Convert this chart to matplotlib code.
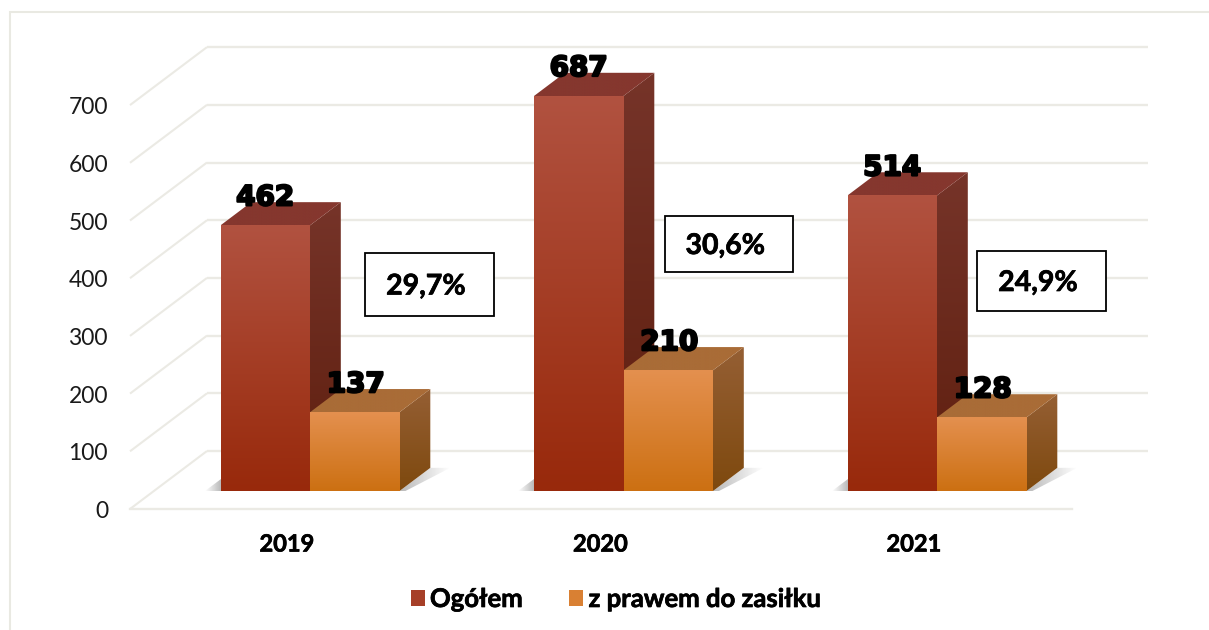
"""Unemployed totals and those with benefit rights, drawn as fake 3D bars."""

import matplotlib
matplotlib.use("Agg")
import matplotlib.pyplot as plt
import numpy as np
import matplotlib.patheffects as pe
from matplotlib.colors import to_rgb
from matplotlib.patches import Patch, Polygon, Rectangle

years = ["2019", "2020", "2021"]
ogolem = [462, 687, 514]
z_prawem = [137, 210, 128]
percents = ["29,7%", "30,6%", "24,9%"]
y_ticks = [0, 100, 200, 300, 400, 500, 600, 700]
series_names = ["Ogółem", "z prawem do zasiłku"]

W, H = 1209, 630
CAT_PX = 313.5    # px between categories
VAL_PX = 0.577    # px per value unit
X0_PX, Y0_PX = 310.0, 509.0

# floor depth in data units
DEPTH_X = 77 / CAT_PX
DEPTH_Y = 58 / VAL_PX
BAR_W = 89.5 / CAT_PX
BAR_D0 = 0.31     # where bars start on the floor
BAR_D = 0.40      # how deep bars are
BAR_SCALE = 0.575 / VAL_PX   # bars run a touch shorter than the wall scale

RED = {"front": ("#B15240", "#98290B"), "side": ("#763429", "#5E1E0E"), "top": ("#85372E", "#85372E")}
ORANGE = {"front": ("#E4904F", "#CC7012"), "side": ("#955F34", "#7E490E"), "top": ("#A96C37", "#A96C37")}
GRID = "#EBEAE4"


def from_px(px, py):
    return (px - X0_PX) / CAT_PX, (Y0_PX - py) / VAL_PX


def project(x, v, d):
    return x + d * DEPTH_X, v + d * DEPTH_Y


def gradient_poly(ax, pts, top, bottom, zorder):
    """Fill a polygon with a vertical gradient, clipped through imshow."""
    pts = np.array(pts)
    c1, c2 = np.array(to_rgb(top)), np.array(to_rgb(bottom))
    t = np.linspace(0, 1, 128)[:, None, None]
    img = c1[None, None, :] * (1 - t) + c2[None, None, :] * t
    extent = (pts[:, 0].min(), pts[:, 0].max(), pts[:, 1].min(), pts[:, 1].max())
    im = ax.imshow(img, extent=extent, origin="upper", aspect="auto", zorder=zorder, interpolation="bilinear")
    clip = Polygon(pts, closed=True, transform=ax.transData, facecolor="none", edgecolor="none")
    ax.add_patch(clip)
    im.set_clip_path(clip)


def shadow(ax, x0, x1, y0, y1, pts, reverse, zorder):
    """Grey fade next to a bar foot."""
    a = np.linspace(0.42, 0.0, 64)
    if reverse:
        a = a[::-1]
    img = np.zeros((1, 64, 4))
    img[0, :, :3] = 0.35
    img[0, :, 3] = a
    im = ax.imshow(img, extent=(x0, x1, y0, y1), aspect="auto", zorder=zorder, interpolation="bilinear")
    clip = Polygon(pts, closed=True, transform=ax.transData, facecolor="none", edgecolor="none")
    ax.add_patch(clip)
    im.set_clip_path(clip)


def draw_bar(ax, x, value, style, zorder):
    x1 = x + BAR_W
    d0, d1 = BAR_D0, BAR_D0 + BAR_D
    height = value * BAR_SCALE
    base = project(x, 0, d0)[1]
    fx0 = project(x, 0, d0)[0]
    fx1 = project(x1, 0, d0)[0]
    bx0 = project(x, 0, d1)[0]
    bx1 = project(x1, 0, d1)[0]
    ftop = base + height
    btop = project(x, height, d1)[1]
    bbase = project(x, 0, d1)[1]
    gradient_poly(ax, [(fx1, ftop), (bx1, btop), (bx1, bbase), (fx1, base)], *style["side"], zorder)
    gradient_poly(ax, [(fx0, ftop), (fx1, ftop), (bx1, btop), (bx0, btop)], *style["top"], zorder)
    gradient_poly(ax, [(fx0, ftop), (fx1, ftop), (fx1, base), (fx0, base)], *style["front"], zorder + 0.1)
    return fx0, fx1, bx1, base, bbase, ftop


def main():
    fig = plt.figure(figsize=(W / 100, H / 100), dpi=100)
    ax = fig.add_axes([0, 0, 1, 1])
    xlim = (from_px(0, 0)[0], from_px(W, 0)[0])
    ylim = (from_px(0, H)[1], from_px(0, 0)[1])
    nudge = 2.5 / VAL_PX

    # walls
    for v in y_ticks:
        bx, by = project(from_px(130, 0)[0], v, 1)
        ax.plot([from_px(130, 0)[0], bx], [v, by], color=GRID, lw=1.5, zorder=1, solid_capstyle="butt")
        ax.plot([bx, from_px(1148, 0)[0]], [by, by], color=GRID, lw=1.7, zorder=1, solid_capstyle="butt")
        ax.text(from_px(108, 0)[0], v - nudge, str(v), ha="right", va="center", family="Lato",
                fontsize=16.5, color="#1A1A1A", zorder=5)
    ax.plot([from_px(130, 0)[0], from_px(1072, 0)[0]], [0, 0], color=GRID, lw=1.7, zorder=1)

    # chart frame
    fx, fy = from_px(10, 12)
    ax.plot([fx, fx, xlim[1]], [ylim[0], fy, fy], color="#E9E9E2", lw=1.5, zorder=1, solid_joinstyle="miter")

    stroke = [pe.withStroke(linewidth=1.6, foreground="black")]
    thin = [pe.withStroke(linewidth=0.5, foreground="black")]

    for i, year in enumerate(years):
        x_left = i - BAR_W
        fx0, _, _, base, _, ftop = draw_bar(ax, x_left - BAR_D0 * DEPTH_X, ogolem[i], RED, 3)
        _, _, _, _, _, ftop2 = draw_bar(ax, i - BAR_D0 * DEPTH_X, z_prawem[i], ORANGE, 3.2)

        # foot shadows
        sx0 = fx0 - 16 / CAT_PX
        shadow(ax, sx0, fx0, base, base + 12 / VAL_PX,
               [(sx0, base), (fx0, base), (fx0, base + 12 / VAL_PX)], True, 2)
        rx = i + BAR_W
        bx, by = rx + BAR_D * DEPTH_X, base + BAR_D * DEPTH_Y
        sx1 = bx + 20 / CAT_PX
        shadow(ax, rx, sx1, base, by, [(rx, base), (bx, by), (sx1, by), (rx + 4 / CAT_PX, base - 1 / VAL_PX)],
               False, 2)

        # value labels
        ax.text(i - BAR_W / 2, ftop + 28 / VAL_PX, str(ogolem[i]), ha="center", va="center",
                family="DejaVu Sans", weight="bold", fontsize=20, color="black", zorder=6, path_effects=stroke)
        ax.text(i + BAR_W / 2 + 1 / CAT_PX, ftop2 + 28 / VAL_PX, str(z_prawem[i]), ha="center",
                va="center", family="DejaVu Sans", weight="bold", fontsize=20, color="black", zorder=6,
                path_effects=stroke)

        # year under the group
        ax.text(i - 23 / CAT_PX, from_px(0, 542)[1] - nudge * 0.8, year, ha="center", va="center", family="Lato",
                weight="bold", fontsize=17, color="black", path_effects=thin)

    # percent boxes, placed by hand like in the original slide
    boxes = [(365, 253, 494, 316), (665, 216, 793, 272), (977, 251, 1106, 311)]
    for label, (l, t, r, b) in zip(percents, boxes):
        x0, y0 = from_px(l, b)
        x1, y1 = from_px(r, t)
        ax.add_patch(Rectangle((x0, y0), x1 - x0, y1 - y0, facecolor="white", edgecolor="black", lw=1.3, zorder=7))
        ax.text((x0 + x1) / 2 - 3.5 / CAT_PX, (y0 + y1) / 2 - nudge * 0.8, label, ha="center", va="center",
                family="Lato", weight="bold", fontsize=20.5, color="black", zorder=8, path_effects=thin)

    handles = [Patch(facecolor="#A63F28", label=series_names[0]), Patch(facecolor="#D98033", label=series_names[1])]
    leg = fig.legend(handles=handles, loc="center", bbox_to_anchor=(616 / W, 1 - 599 / H), ncol=2, frameon=False,
                     handlelength=0.55, handleheight=0.55, handletextpad=0.2, columnspacing=1.8,
                     prop={"family": "Lato", "weight": "bold", "size": 18.5})
    for text in leg.get_texts():
        text.set_path_effects(thin)

    ax.set_xlim(xlim)
    ax.set_ylim(ylim)
    ax.axis("off")
    fig.savefig("out.png", dpi=100, facecolor="white")


if __name__ == "__main__":
    main()
